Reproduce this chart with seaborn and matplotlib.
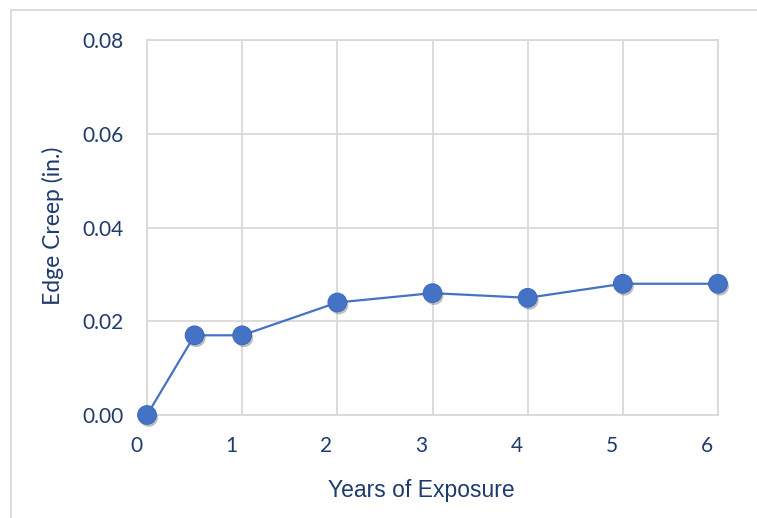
import matplotlib
matplotlib.use("Agg")
import matplotlib.pyplot as plt
import matplotlib.patheffects as pe
from matplotlib.transforms import ScaledTranslation
from matplotlib.lines import Line2D
import seaborn as sns
import pandas as pd

# data
years = [0, 0.5, 1, 2, 3, 4, 5, 6]
edge_creep = [0.000, 0.017, 0.017, 0.024, 0.026, 0.025, 0.028, 0.028]
x_ticks = [0, 1, 2, 3, 4, 5, 6]
y_ticks = [0.00, 0.02, 0.04, 0.06, 0.08]

df = pd.DataFrame({"Years": years, "Creep": edge_creep})

sns.set_style("white")
navy = "#1F3A6E"
blue = "#4472C4"
grid = "#D9D9D9"

fig = plt.figure(figsize=(7.57, 5.18), dpi=100)
ax = fig.add_axes([147 / 757, 1 - 415 / 518, 571 / 757, 375 / 518])

# connecting line
sns.lineplot(data=df, x="Years", y="Creep", ax=ax, color=blue, linewidth=1.6,
             sort=False, zorder=4)
# markers with a soft drop shadow
sns.scatterplot(data=df, x="Years", y="Creep", ax=ax, color=blue, s=180,
                edgecolor="#3E6BC0", linewidth=0.8, zorder=5, clip_on=False,
                path_effects=[pe.SimplePatchShadow(offset=(1.2, -1.8), shadow_rgbFace="#444444", alpha=0.35),
                              pe.Normal()])

ax.set_xlim(0, 6)
ax.set_ylim(0, 0.08)
ax.set_xticks(x_ticks)
ax.set_yticks(y_ticks)
ax.set_xticklabels([str(t) for t in x_ticks])
ax.set_yticklabels([f"{t:.2f}" for t in y_ticks])
ax.grid(True, color=grid, linewidth=1.3)
for s in ax.spines.values():
    s.set_color(grid)
    s.set_linewidth(1.3)

ax.tick_params(axis="both", length=0, labelcolor=navy, labelsize=15)
ax.tick_params(axis="x", pad=15)
ax.tick_params(axis="y", pad=17)
for lab in ax.get_xticklabels() + ax.get_yticklabels():
    lab.set_family("Lato")
# x tick labels sit a little left of the gridlines
shift = ScaledTranslation(-11 / 100, 0, fig.dpi_scale_trans)
for lab in ax.get_xticklabels():
    lab.set_transform(lab.get_transform() + shift)

ax.set_xlabel("Years of Exposure", fontsize=16.5, color=navy, family="Liberation Sans")
ax.xaxis.set_label_coords((421 - 147) / 571, (415 - 491) / 375)
ax.xaxis.label.set_va("center")
ax.set_ylabel("Edge Creep (in.)", fontsize=16.5, color=navy, family="Lato")
ax.yaxis.set_label_coords((53 - 147) / 571, (415 - 226) / 375)
ax.yaxis.label.set_va("center")

# outer chart border (top and left edges visible)
fig.add_artist(Line2D([11 / 757, 1], [1 - 10 / 518, 1 - 10 / 518], transform=fig.transFigure, color=grid, linewidth=1.3))
fig.add_artist(Line2D([11 / 757, 11 / 757], [0, 1 - 10 / 518], transform=fig.transFigure, color=grid, linewidth=1.3))

fig.savefig("out.png", dpi=100)
